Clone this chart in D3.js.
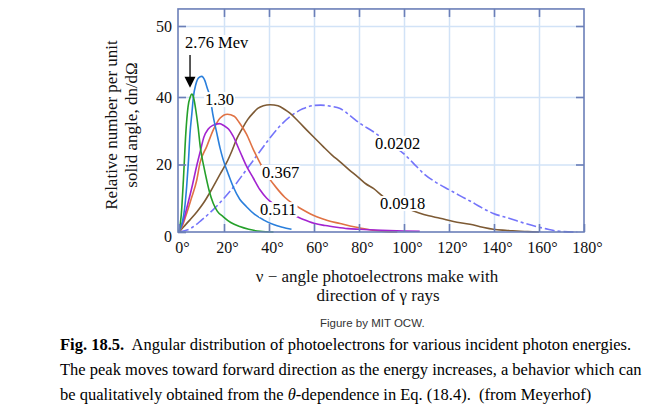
<!DOCTYPE html>
<html><head><meta charset="utf-8">
<script src="https://cdn.jsdelivr.net/npm/d3@7"></script>
<style>body{margin:0;background:#fff;} svg{display:block;}</style>
</head><body>
<svg id="c" width="666" height="410"></svg>
<script>
// ---------- data ----------
const xTickValues = [0,20,40,60,80,100,120,140,160,180];
const xTickLabels = ["0°","20°","40°","60°","80°","100°","120°","140°","160°","180°"];
const yTickValues = [0,20,40,50];
const yTickLabels = ["0","20","40","50"];
const energyLabels = ["2.76 Mev","1.30","0.511","0.367","0.0918","0.0202"];

// [angle (deg), relative number dn/dΩ]
const s276 = [[0,0],[1,5],[2,16],[3,29],[4,37],[5,40],[5.7,40.4],[6.5,39.8],[7.5,36],[8.5,31],[9.5,25],[11,19.5],[12.3,15.4],[13.5,12],[15.2,8.5],[17,6.2],[19.7,4.5],[23,2.8],[27,1.6],[31,0.8],[36,0.2],[42,0]];
const s130 = [[0,0],[1.5,3],[2.5,7],[3.4,13.4],[4.2,21],[4.9,29.3],[5.7,35],[6.4,40],[7.5,41.8],[8.7,42.7],[10.1,42.9],[11.5,42.3],[12.5,41.3],[13.8,40],[15,35],[16.8,29.3],[18.2,25],[19.7,21.3],[22,17],[24.1,13.4],[27,9.7],[30,7.5],[33.5,5.3],[37.5,3.6],[42,2.2],[46,1.4],[50,0.8]];
const s0511 = [[0,0],[2,3.5],[4,8.5],[6,14],[8,20],[9.5,24],[11,28],[13,30.5],[15,31.6],[18,32.1],[20,31.5],[22,30.5],[24,28.5],[27,24],[30,19.5],[33,16],[36,12.5],[39,10],[42,8.3],[46,6.3],[50.8,5],[55,3.8],[60,2.6],[65,1.9],[70,1.4],[75,1.0],[80,0.8],[90,0.5],[100,0.3],[107,0.2]];
const s0367 = [[0,0],[1.5,1.8],[3.4,5.5],[5.5,10],[7.9,15.4],[9.3,20.4],[12.3,25.3],[15.2,30.2],[18.2,33.7],[21.5,34.9],[24.5,34.3],[27,32.2],[30,29],[33,24.5],[36,20.5],[39.5,16.5],[43.4,13],[47,10.3],[50.8,8.3],[55,6.6],[61.2,4.5],[66,3.4],[71.6,2.5],[76,1.8],[80.4,1.2],[86,0.5],[92,0.1],[97,0]];
const s0918 = [[0,0],[2,1.5],[4.9,3.6],[8,6],[10.8,8.5],[14,12],[16.8,15.4],[19,18],[21.2,20.6],[23.5,24],[25.6,27.5],[28,30.5],[30.5,33.3],[33,35.3],[35,36.6],[37.5,37.4],[40.5,37.7],[44,37.4],[47,36.3],[49.3,35.2],[53,32.8],[56.8,30.2],[60.5,27.7],[64.1,25.3],[68,22.8],[71.6,20.8],[75.5,18.5],[79.7,16.2],[83,14.3],[86.4,12.9],[90.8,10.5],[95,8.8],[100,7.3],[106.4,5.7],[111,4.8],[116,4.1],[122,3.1],[129.3,2.3],[135,1.4],[139.7,0.8],[145,0.5],[150,0.3],[155,0.1],[160,0]];
const s0202 = [[0,0],[5,1],[10,3.5],[15,6.5],[20,10],[25,14],[30,18.5],[35,23],[40,27.5],[45,31.5],[50,34.5],[55,36.5],[60,37.5],[63,37.6],[67,37.3],[71.6,36.6],[76,34.5],[80.4,32.2],[86.4,29.7],[93,26.5],[99.7,23.3],[104,20.5],[108.6,17.4],[114,14.8],[120.4,12.4],[125,10.7],[129.3,9.2],[134,7.4],[139.7,5.5],[147,4],[153,2.7],[159,1.6],[164,0.8],[169,0.2],[177,0]];

const captionLines = [
  ["Fig. 18.5.", "  Angular distribution of photoelectrons for various incident photon energies."],
  ["", "The peak moves toward forward direction as the energy increases, a behavior which can"],
  ["", "be qualitatively obtained from the ", "θ", "-dependence in Eq. (18.4).  (from Meyerhof)"]
];

// ---------- layout ----------
const svg = d3.select("#c");
const frameCol = "#6b7fb8", gridCol = "#d2e3f7";
const serif = "'Liberation Serif','Times New Roman',serif";
const x = d3.scaleLinear().domain([0,180]).range([179,584]);
// the original figure's y axis is not uniform above 40
const y = d3.scaleLinear().domain([0,40,50]).range([232,97,26]);
const yTop = 52.4;

// grid
svg.append("g").attr("transform",`translate(0,${y(0)})`)
  .call(d3.axisBottom(x).tickValues(xTickValues.slice(1,-1)).tickSize(-(y(0)-y(yTop))).tickFormat(""))
  .call(g=>g.select(".domain").remove())
  .selectAll("line").attr("stroke",gridCol).attr("stroke-width",1.5);
svg.append("g").attr("transform",`translate(${x(0)},0)`)
  .call(d3.axisLeft(y).tickValues(yTickValues.slice(1)).tickSize(-(x(180)-x(0))).tickFormat(""))
  .call(g=>g.select(".domain").remove())
  .selectAll("line").attr("stroke",gridCol).attr("stroke-width",1.5);

// curves
const line = d3.line().x(d=>x(d[0])).y(d=>y(d[1])).curve(d3.curveMonotoneX);
const series = [
  {d:s0202, c:"#7474fa", dash:"10,3,3,3"},
  {d:s0918, c:"#7d5a34"},
  {d:s0367, c:"#e07244"},
  {d:s0511, c:"#a324d0"},
  {d:s130,  c:"#2a7fdc"},
  {d:s276,  c:"#25a02a"}
];
svg.append("g").selectAll("path").data(series).join("path")
  .attr("d",s=>line(s.d)).attr("fill","none").attr("stroke",s=>s.c)
  .attr("stroke-width",1.6).attr("stroke-dasharray",s=>s.dash||null);

// frame
svg.append("rect").attr("x",x(0)-1).attr("y",y(yTop)).attr("width",x(180)-x(0)+1).attr("height",y(0)-y(yTop))
  .attr("fill","none").attr("stroke",frameCol).attr("stroke-width",1.6);

// ticks (inward)
const tickStyle = g=>{g.select(".domain").remove(); g.selectAll("line").attr("stroke",frameCol).attr("stroke-width",1.6);};
svg.append("g").attr("transform",`translate(0,${y(0)})`)
  .call(d3.axisBottom(x).tickValues(xTickValues).tickSize(-8).tickPadding(10).tickFormat((d,i)=>xTickLabels[i]))
  .call(tickStyle)
  .call(g=>g.selectAll("text").attr("font-family",serif).attr("font-size",16).attr("fill","#111").attr("dx",3));
svg.append("g").attr("transform",`translate(0,${y(yTop)})`)
  .call(d3.axisTop(x).tickValues(xTickValues.slice(1,-1)).tickSize(-8).tickFormat(""))
  .call(tickStyle);
svg.append("g").attr("transform",`translate(${x(0)-1},0)`)
  .call(d3.axisLeft(y).tickValues(yTickValues).tickSize(-8).tickPadding(6).tickFormat((d,i)=>yTickLabels[i]))
  .call(tickStyle)
  .call(g=>g.selectAll("text").attr("font-family",serif).attr("font-size",16).attr("fill","#111")
     .attr("dy",d=>d===0?"0.62em":"0.32em"));
svg.append("g").attr("transform",`translate(${x(180)},0)`)
  .call(d3.axisRight(y).tickValues(yTickValues.slice(1)).tickSize(-8).tickFormat(""))
  .call(tickStyle);

// curve labels
const labelPos = [[2.7,46.9],[11.6,37.6],[36,5],[36.9,16],[89.3,6.8],[87.1,24.6]];
const lg = svg.append("g");
energyLabels.forEach((t,i)=>{
  const g = lg.append("g");
  const tx = g.append("text").attr("x",x(labelPos[i][0])).attr("y",y(labelPos[i][1]))
    .attr("font-family",serif).attr("font-size",16.5).attr("fill","#000").text(t);
  const b = tx.node().getBBox();
  g.insert("rect","text").attr("x",b.x-1).attr("y",b.y+2).attr("width",b.width+2).attr("height",b.height-4).attr("fill","#fff");
});
// arrow
lg.append("line").attr("x1",x(4.9)).attr("x2",x(4.9)).attr("y1",y(45.9)).attr("y2",y(42.6))
  .attr("stroke","#000").attr("stroke-width",1.3);
const ax = x(4.9), ay = y(41.3);
lg.append("path").attr("d",`M${ax},${ay}L${ax-5.5},${ay-11}L${ax+5.5},${ay-11}Z`).attr("fill","#000");

// axis titles
svg.append("text").attr("x",377).attr("y",282).attr("text-anchor","middle")
  .attr("font-family",serif).attr("font-size",17).attr("fill","#111").text("ν − angle photoelectrons make with");
svg.append("text").attr("x",378).attr("y",301).attr("text-anchor","middle")
  .attr("font-family",serif).attr("font-size",17).attr("fill","#111").text("direction of γ rays");
const yt = svg.append("g").attr("transform","translate(0,125) rotate(-90)");
yt.append("text").attr("x",0).attr("y",117).attr("text-anchor","middle")
  .attr("font-family",serif).attr("font-size",17).attr("fill","#111").text("Relative number per unit");
yt.append("text").attr("x",0).attr("y",137).attr("text-anchor","middle")
  .attr("font-family",serif).attr("font-size",17).attr("fill","#111").text("solid angle, dn/dΩ");

// credit + caption
svg.append("text").attr("x",320).attr("y",327).attr("font-family","'Liberation Sans',Arial,sans-serif")
  .attr("font-size",11.5).attr("fill","#333").text("Figure by MIT OCW.");
captionLines.forEach((parts,i)=>{
  const t = svg.append("text").attr("x",60).attr("y",350+i*25).attr("font-family",serif)
    .attr("font-size",16.5).attr("fill","#000").attr("xml:space","preserve").style("white-space","pre");
  if(i<2){
    if(parts[0]) t.append("tspan").attr("font-weight","bold").text(parts[0]);
    t.append("tspan").text(parts[1]);
  } else {
    t.append("tspan").text(parts[1]);
    t.append("tspan").attr("font-style","italic").text(parts[2]);
    t.append("tspan").text(parts[3]);
  }
});
</script>
</body></html>
